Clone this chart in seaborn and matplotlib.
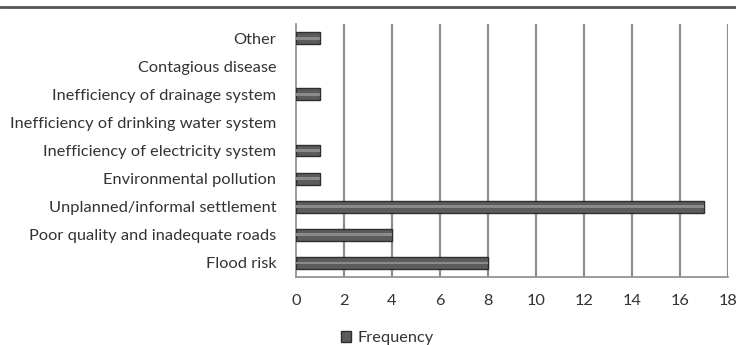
import matplotlib
matplotlib.use("Agg")
import matplotlib.pyplot as plt
from matplotlib.lines import Line2D
from matplotlib.patches import Patch
import numpy as np
import pandas as pd
import seaborn as sns

categories = [
    "Other",
    "Contagious disease",
    "Inefficiency of drainage system",
    "Inefficiency of drinking water system",
    "Inefficiency of electricity system",
    "Environmental pollution",
    "Unplanned/informal settlement",
    "Poor quality and inadequate roads",
    "Flood risk",
]
frequency = [1, 0, 1, 0, 1, 1, 17, 4, 8]
x_ticks = [0, 2, 4, 6, 8, 10, 12, 14, 16, 18]
series_name = "Frequency"

df = pd.DataFrame({"Issue": categories, series_name: frequency})

sns.set_theme(style="white")
plt.rcParams["font.family"] = ["Lato", "DejaVu Sans"]

fig = plt.figure(figsize=(7.36, 3.45), dpi=100)
ax = fig.add_axes([0.402, 0.197, 0.587, 0.733])

text_col = "#333333"
bar_col = "#5c5c5c"
fs = 11.8

sns.barplot(data=df, y="Issue", x=series_name, orient="h", color=bar_col,
            width=0.42, edgecolor="#2e2e2e", linewidth=1.0, ax=ax, zorder=3)
# lighter highlight band along each bar to give it a rounded look
sns.barplot(data=df, y="Issue", x=series_name, orient="h", color="#8a8a8a",
            width=0.1, linewidth=0, ax=ax, zorder=4)
# zero-length bars leave no outline
for p in ax.patches:
    if p.get_width() == 0:
        p.set_visible(False)

ax.set_xlim(0, 18)
ax.set_ylim(len(categories) - 0.5, -0.5)
ax.set_xticks(x_ticks)
ax.set_xticklabels([str(t) for t in x_ticks], fontsize=fs, color=text_col)
ax.set_xlabel("")
ax.set_ylabel("")
ax.tick_params(axis="y", length=0, pad=14, labelsize=fs, labelcolor=text_col)
ax.set_yticks(np.arange(-0.5, len(categories) + 0.5, 1.0), minor=True)
ax.tick_params(axis="y", which="minor", length=5, width=1.0, color="#777777", direction="out")
ax.tick_params(axis="x", length=5, width=1.0, color="#777777", direction="out", pad=7)

for v in x_ticks[1:]:
    ax.axvline(v, color="#8c8c8c", lw=1.6, zorder=1)

for side in ["top", "right"]:
    ax.spines[side].set_visible(False)
for side in ["left", "bottom"]:
    ax.spines[side].set_color("#8a8a8a")
    ax.spines[side].set_linewidth(1.2)

# rule across the top of the figure
fig.add_artist(Line2D([0, 1], [0.98, 0.98], color="#555555", lw=2.0,
                      transform=fig.transFigure))

handle = Patch(facecolor=bar_col, edgecolor="#2e2e2e")
fig.legend([handle], [series_name], loc="center left",
           bbox_to_anchor=(0.443, 0.02), frameon=False, fontsize=fs,
           handlelength=0.6, handleheight=0.6, handletextpad=0.4,
           labelcolor=text_col)

fig.savefig("out.png", dpi=100, facecolor="white")
